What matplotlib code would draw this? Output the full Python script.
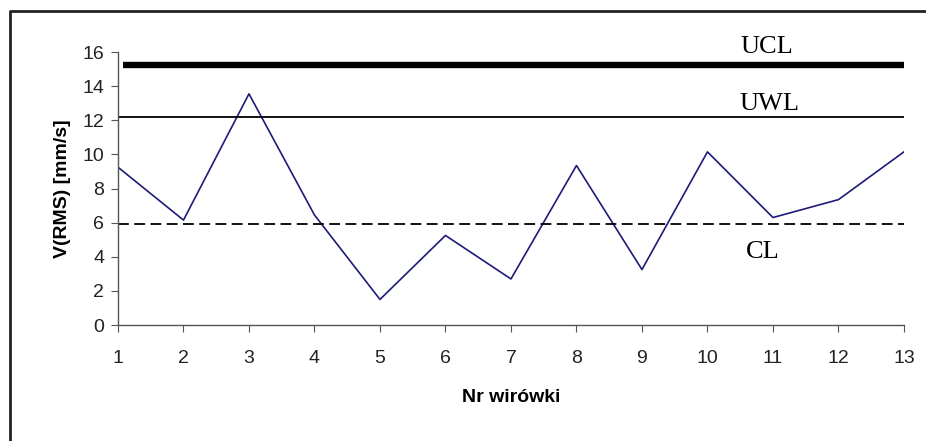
import numpy as np
import matplotlib.pyplot as plt
from matplotlib.lines import Line2D

# data
nr = list(range(1, 14))
v_rms = [9.25, 6.15, 13.55, 6.45, 1.5, 5.25, 2.7, 9.35, 3.25, 10.15, 6.3, 7.35, 10.15]
ucl = 15.25
uwl = 12.2
cl = 5.9
limit_labels = ['UCL', 'UWL', 'CL']

fig = plt.figure(figsize=(9.26, 4.41), dpi=100)
ax = fig.add_axes([0.1274, 0.263, 0.8488, 0.619])

# frame (only top and left edge visible in the crop)
fx, fy = 9.5 / 926, 1 - 11 / 441
fig.lines.append(Line2D([fx, fx, 1], [0, fy, fy], transform=fig.transFigure,
                        color='#222222', linewidth=2.0))

ax.plot(nr, v_rms, color='#1c1c78', linewidth=1.2)
ax.hlines(ucl, nr[0] + 0.08, nr[-1], color='black', linewidth=4.6)
ax.hlines(uwl, nr[0], nr[-1], color='black', linewidth=1.3)
ax.hlines(cl, nr[0], nr[-1], color='black', linewidth=1.3, linestyles=(0, (6, 3)))

serif = 'Liberation Serif'
ax.text(10.9, ucl + 0.4, limit_labels[0], family=serif, fontsize=19, ha='center', va='bottom')
ax.text(10.95, uwl + 0.1, limit_labels[1], family=serif, fontsize=19, ha='center', va='bottom')
ax.text(10.85, cl - 0.95, limit_labels[2], family=serif, fontsize=19, ha='center', va='top')

ax.set_xlim(1, 13)
ax.set_ylim(0, 16)
ax.set_xticks(nr)
ax.set_yticks(np.arange(0, 17, 2))
for s in ['top', 'right']:
    ax.spines[s].set_visible(False)
for s in ['left', 'bottom']:
    ax.spines[s].set_color('#555555')
    ax.spines[s].set_linewidth(1.0)
ax.tick_params(axis='both', colors='#555555', length=5, labelcolor='#222222',
               labelsize=14, labelfontfamily='Liberation Sans')
ax.tick_params(axis='x', pad=13)
ax.tick_params(axis='y', pad=5)

ax.set_ylabel('V(RMS) [mm/s]', family='Liberation Sans', fontweight='bold', fontsize=14, labelpad=8)
ax.set_xlabel('Nr wirówki', family='Liberation Sans', fontweight='bold', fontsize=14, labelpad=16)

fig.savefig('out.png', dpi=100)
